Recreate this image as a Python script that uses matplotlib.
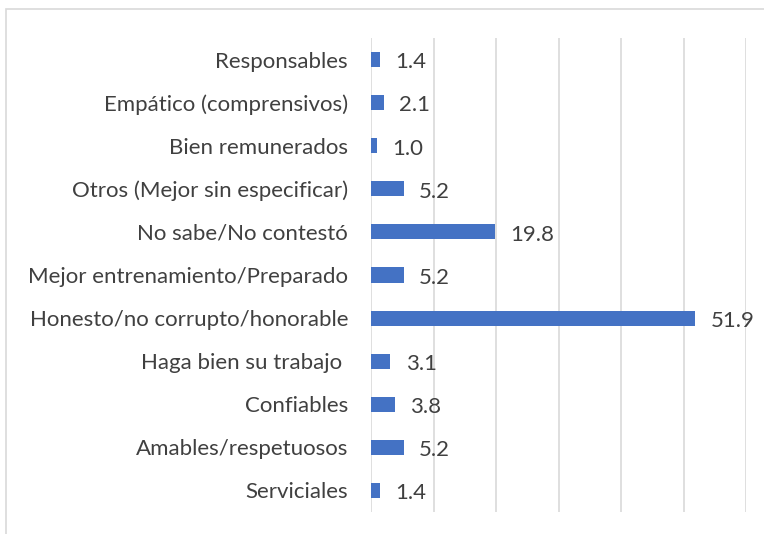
import matplotlib.pyplot as plt
from matplotlib.patches import Rectangle

categorias = [
    "Serviciales",
    "Amables/respetuosos",
    "Confiables",
    "Haga bien su trabajo ",
    "Honesto/no corrupto/honorable",
    "Mejor entrenamiento/Preparado",
    "No sabe/No contestó",
    "Otros (Mejor sin especificar)",
    "Bien remunerados",
    "Empático (comprensivos)",
    "Responsables",
]
porcentajes = [1.4, 5.2, 3.8, 3.1, 51.9, 5.2, 19.8, 5.2, 1.0, 2.1, 1.4]

plt.rcParams['font.family'] = ['Lato', 'DejaVu Sans']
texto = '#404040'
fs = 16

fig = plt.figure(figsize=(7.64, 5.34), dpi=100)
W, H = 764, 534
ax = fig.add_axes([371 / W, 1 - 512 / H, (746 - 371) / W, (512 - 38) / H])

y = range(len(categorias))
ax.barh(y, porcentajes, height=0.35, color='#4472C4', zorder=3)
for yi, v in zip(y, porcentajes):
    ax.annotate(f"{v:.1f}", (v, yi), xytext=(11, -2), textcoords='offset points',
                va='center', ha='left', fontsize=fs, color=texto)

ax.set_xlim(0, 60)
ax.set_ylim(-0.5, len(categorias) - 0.5)
ax.set_xticks(range(0, 61, 10))
ax.set_xticklabels([])
ax.tick_params(axis='x', length=0)
ax.set_yticks(list(y))
ax.set_yticklabels(categorias, fontsize=fs, color=texto)
ax.tick_params(axis='y', length=0, pad=16.5)
ax.grid(axis='x', color='#D9D9D9', linewidth=1.2, zorder=0)
for s in ax.spines.values():
    s.set_visible(False)

# marco del gráfico
fig.patches.append(Rectangle((6 / W, -0.1), 1.2, 1 - 9 / H + 0.1,
                             transform=fig.transFigure, fill=False,
                             edgecolor='#D9D9D9', linewidth=1.2))

fig.savefig('out.png', dpi=100)
